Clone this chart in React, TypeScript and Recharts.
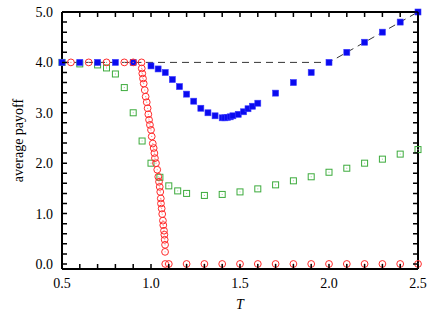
import React from "react";
import { ScatterChart, Scatter, XAxis, YAxis, Label, ReferenceLine } from "recharts";

// blue: filled squares
const blueT = [0.5, 0.6, 0.7, 0.8, 0.9, 1.0, 1.04, 1.08, 1.12, 1.16, 1.2, 1.24, 1.28, 1.32, 1.36, 1.4, 1.415, 1.43, 1.445, 1.46, 1.49, 1.52, 1.545, 1.57, 1.6, 1.7, 1.8, 1.9, 2.0, 2.1, 2.2, 2.3, 2.4, 2.5];
const blueY = [4, 4, 4, 4, 4, 3.93, 3.87, 3.8, 3.66, 3.52, 3.37, 3.23, 3.09, 3.0, 2.94, 2.9, 2.9, 2.91, 2.92, 2.94, 2.97, 3.02, 3.08, 3.13, 3.19, 3.39, 3.6, 3.8, 4.0, 4.2, 4.4, 4.6, 4.8, 5.0];

// green: open squares
const greenT = [0.5, 0.6, 0.7, 0.75, 0.8, 0.85, 0.9, 0.95, 1.0, 1.05, 1.1, 1.15, 1.2, 1.3, 1.4, 1.5, 1.6, 1.7, 1.8, 1.9, 2.0, 2.1, 2.2, 2.3, 2.4, 2.5];
const greenY = [4, 3.97, 3.95, 3.89, 3.77, 3.5, 3.0, 2.44, 2.0, 1.72, 1.55, 1.45, 1.4, 1.36, 1.38, 1.43, 1.49, 1.57, 1.65, 1.73, 1.82, 1.9, 2.0, 2.08, 2.18, 2.27];

// red: open circles
const redT = [0.55, 0.65, 0.75, 0.85, 0.9, 0.947, 0.948, 0.951, 0.955, 0.959, 0.965, 0.97, 0.976, 0.981, 0.985, 0.989, 0.994, 1.0, 1.004, 1.01, 1.015, 1.019, 1.022, 1.028, 1.035, 1.041, 1.045, 1.049, 1.052, 1.055, 1.056, 1.06, 1.063, 1.067, 1.069, 1.073, 1.075, 1.077, 1.079, 1.079, 1.08, 1.1, 1.2, 1.3, 1.4, 1.5, 1.6, 1.7, 1.8, 1.9, 2.0, 2.1, 2.2, 2.3, 2.4, 2.5];
const redY = [4, 4, 4, 4, 4, 4, 3.88, 3.78, 3.68, 3.58, 3.45, 3.32, 3.21, 3.09, 2.97, 2.86, 2.76, 2.66, 2.53, 2.39, 2.3, 2.2, 2.1, 2.0, 1.87, 1.73, 1.63, 1.53, 1.43, 1.3, 1.2, 1.1, 0.99, 0.86, 0.77, 0.66, 0.58, 0.48, 0.38, 0.24, 0, 0, 0, 0, 0, 0, 0, 0, 0, 0, 0, 0, 0, 0, 0, 0];

// dashed reference: max(4, 2T)
const refT = [0.5, 2.0, 2.5];
const refY = [4, 4, 5];

const xTicks = [0.5, 0.6, 0.7, 0.8, 0.9, 1.0, 1.1, 1.2, 1.3, 1.4, 1.5, 1.6, 1.7, 1.8, 1.9, 2.0, 2.1, 2.2, 2.3, 2.4, 2.5];
const yTicks = [0, 0.2, 0.4, 0.6, 0.8, 1, 1.2, 1.4, 1.6, 1.8, 2, 2.2, 2.4, 2.6, 2.8, 3, 3.2, 3.4, 3.6, 3.8, 4, 4.2, 4.4, 4.6, 4.8, 5];

const zip = (xs: number[], ys: number[]) => xs.map((x, i) => ({ x, y: ys[i] }));
const blue = zip(blueT, blueY);
const green = zip(greenT, greenY);
const red = zip(redT, redY);
const ref = zip(refT, refY);

const W = 436;
const H = 318;
const M = { top: 12, right: 18, bottom: 19, left: 0 };
const PLOT_TOP = M.top;
const PLOT_RIGHT = W - M.right;

const FONT = "'Liberation Serif', 'DejaVu Serif', serif";
const TL = 5;
const FRAME = { stroke: "#000", strokeWidth: 2 };

const isMajor = (v: number) => Math.abs(v * 2 - Math.round(v * 2)) < 1e-6;
const isUnit = (v: number) => Math.abs(v - Math.round(v)) < 1e-6;

// bottom ticks also mirror a tick on the top frame edge
const XTick = (p: any) => {
  const v = p.payload.value;
  return (
    <g>
      <path d={`M${p.x},${p.y}V${p.y - TL}M${p.x},${PLOT_TOP}V${PLOT_TOP + TL}`} stroke="#000" strokeWidth={1.5} />
      {isMajor(v) && (
        <text x={p.x} y={p.y + 19} textAnchor="middle" fontFamily={FONT} fontSize={14} fill="#000">
          {v.toFixed(1)}
        </text>
      )}
    </g>
  );
};

// left ticks also mirror a tick on the right frame edge
const YTick = (p: any) => {
  const v = p.payload.value;
  return (
    <g>
      <path d={`M${p.x},${p.y}H${p.x + TL}M${PLOT_RIGHT},${p.y}H${PLOT_RIGHT - TL}`} stroke="#000" strokeWidth={1.5} />
      {isUnit(v) && (
        <text x={p.x - 9} y={p.y + 5} textAnchor="end" fontFamily={FONT} fontSize={14} fill="#000">
          {v.toFixed(1)}
        </text>
      )}
    </g>
  );
};

const BlueSquare = (p: any) => (
  <rect x={p.cx - 3} y={p.cy - 3} width={6} height={6} fill="#0a0af0" stroke="#3a3aff" strokeWidth={0.6} />
);

const GreenSquare = (p: any) => (
  <g>
    <rect x={p.cx - 3} y={p.cy - 3} width={6} height={6} fill="none" stroke="#3cab3c" strokeWidth={1} />
    <rect x={p.cx - 0.5} y={p.cy - 0.5} width={1} height={1} fill="#8fcf8f" />
  </g>
);

const RedCircle = (p: any) => (
  <g>
    <circle cx={p.cx} cy={p.cy} r={3.4} fill="none" stroke="#ff2a2a" strokeWidth={1} />
    <circle cx={p.cx} cy={p.cy} r={0.6} fill="#ff8080" />
  </g>
);

const Nothing = () => null;

export default function App() {
  return (
    <div style={{ position: "absolute", left: 0, top: 0 }}>
      <ScatterChart width={W} height={H} margin={M}>
        <XAxis
          dataKey="x"
          type="number"
          domain={[0.5, 2.5]}
          ticks={xTicks}
          interval={0}
          height={30}
          tickSize={0}
          tickMargin={0}
          tickLine={false}
          tick={<XTick />}
          axisLine={FRAME}
        >
          <Label
            content={(props: any) => {
              const vb = props.viewBox;
              return (
                <text x={vb.x + vb.width / 2} y={vb.y + 40} textAnchor="middle" fontFamily={FONT} fontStyle="italic" fontSize={14} fill="#000">
                  T
                </text>
              );
            }}
          />
        </XAxis>
        <YAxis
          dataKey="y"
          type="number"
          domain={[-0.1, 5]}
          ticks={yTicks}
          interval={0}
          width={62}
          tickSize={0}
          tickMargin={0}
          tickLine={false}
          tick={<YTick />}
          axisLine={FRAME}
        >
          <Label
            content={(props: any) => {
              const vb = props.viewBox;
              const cx = vb.x + 18;
              const cy = vb.y + vb.height / 2;
              return (
                <text x={cx} y={cy} transform={`rotate(-90 ${cx} ${cy})`} textAnchor="middle" dominantBaseline="central" fontFamily={FONT} fontSize={14} fill="#000">
                  average payoff
                </text>
              );
            }}
          />
        </YAxis>
        <ReferenceLine y={5} {...FRAME} />
        <ReferenceLine x={2.5} {...FRAME} />
        <Scatter
          data={ref}
          line={{ stroke: "#000", strokeWidth: 0.8, strokeDasharray: "7 5" }}
          lineType="joint"
          shape={<Nothing />}
          isAnimationActive={false}
        />
        <Scatter data={green} shape={<GreenSquare />} isAnimationActive={false} />
        <Scatter data={blue} shape={<BlueSquare />} isAnimationActive={false} />
        <Scatter data={red} shape={<RedCircle />} isAnimationActive={false} />
      </ScatterChart>
    </div>
  );
}
